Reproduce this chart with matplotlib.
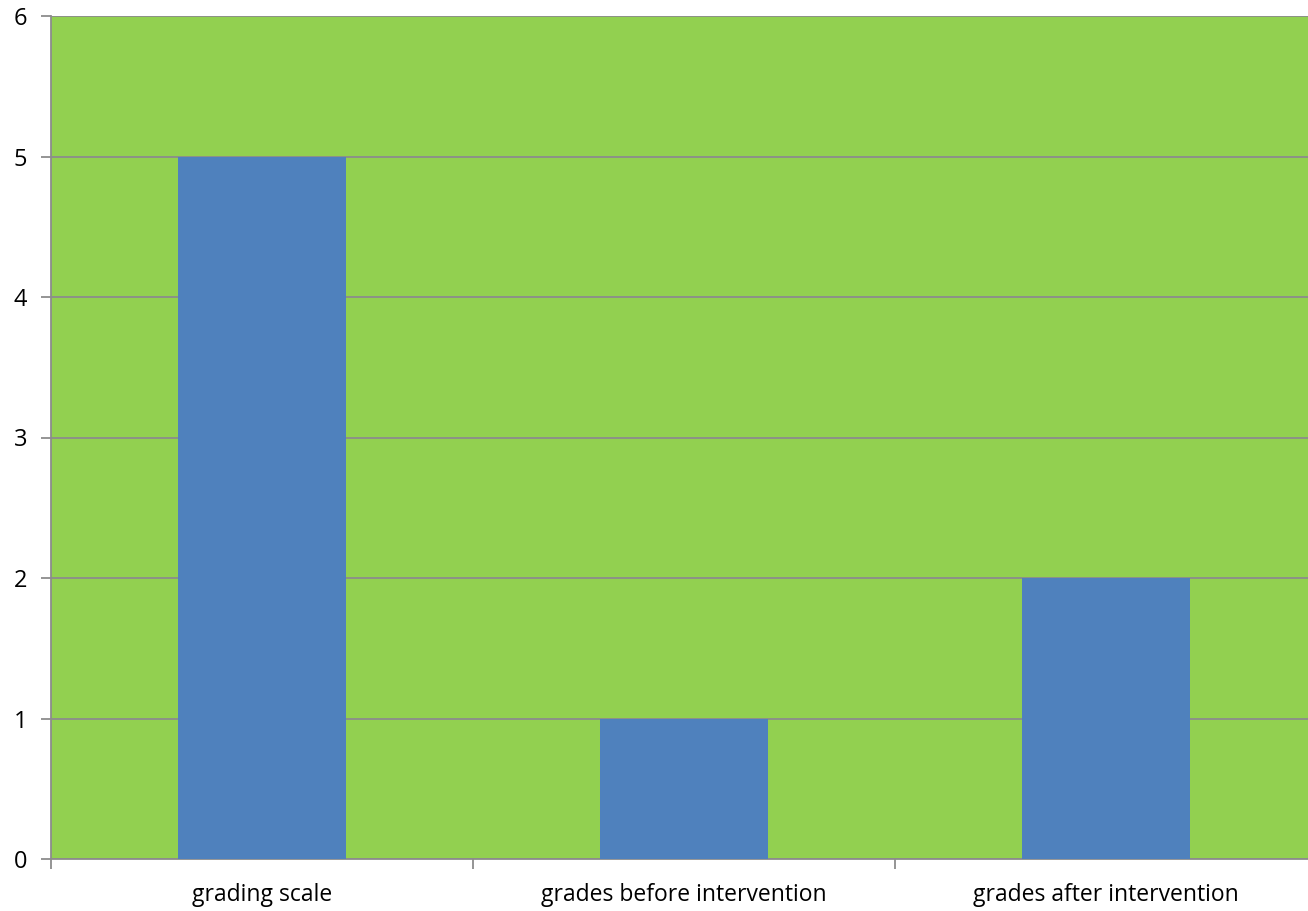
import matplotlib.pyplot as plt

# Chart data
categories = ["grading scale", "grades before intervention", "grades after intervention"]
values = [5, 1, 2]
y_ticks = [0, 1, 2, 3, 4, 5, 6]

plt.rcParams['font.family'] = ['Open Sans', 'DejaVu Sans']

fig = plt.figure(figsize=(13.08, 9.11), dpi=100)
# plot area runs slightly past the right edge of the image, as in the original
ax = fig.add_axes([51 / 1308, 1 - 859 / 911, 1266 / 1308, (859 - 16) / 911])
ax.set_facecolor('#92d050')

x = range(len(categories))
ax.bar(x, values, width=0.4, color='#4f81bd', zorder=3)

# axis ranges
ax.set_xlim(-0.5, len(categories) - 0.5)
ax.set_ylim(0, 6)

# gridlines
ax.set_yticks(y_ticks)
ax.yaxis.grid(True, color='#8c8c8c', linewidth=1.3, zorder=1)
ax.set_axisbelow(True)

# x ticks at category boundaries, labels at centers
ax.set_xticks([i - 0.5 for i in range(len(categories) + 1)])
ax.set_xticklabels([])
ax.set_xticks(list(x), minor=True)
ax.set_xticklabels(categories, minor=True, fontsize=16.5)
ax.tick_params(axis='x', which='major', length=7, width=1.3, color='#8c8c8c')
ax.tick_params(axis='x', which='minor', length=0, pad=17)
ax.tick_params(axis='y', length=7, width=1.3, color='#8c8c8c', labelsize=17, pad=10)

for side in ['top', 'right']:
    ax.spines[side].set_visible(False)
for side in ['left', 'bottom']:
    ax.spines[side].set_color('#8c8c8c')
    ax.spines[side].set_linewidth(1.3)

plt.savefig('out.png', dpi=100)
